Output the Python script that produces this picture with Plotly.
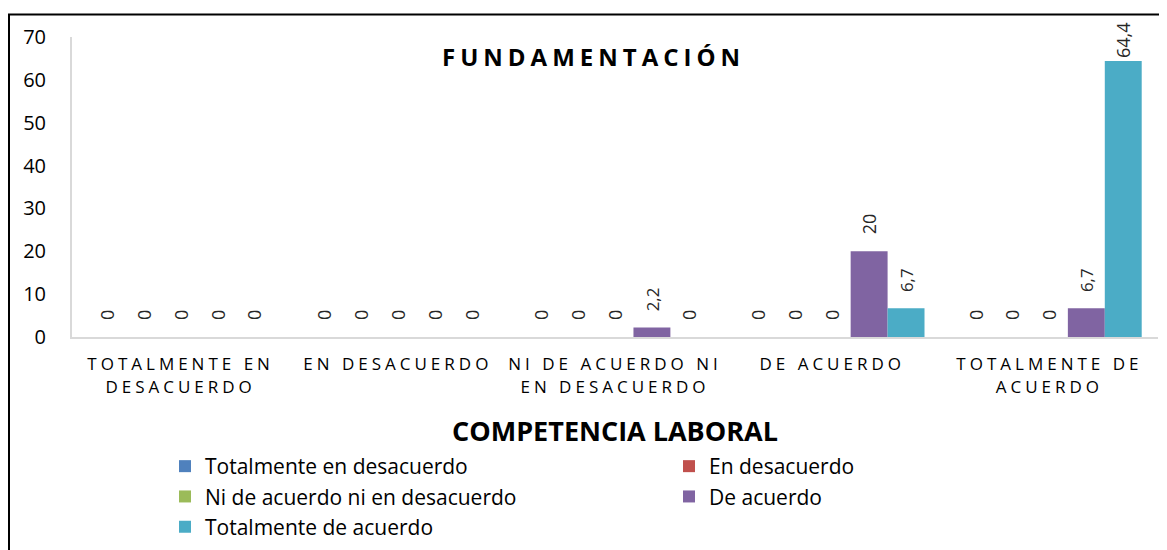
import plotly.graph_objects as go

categories = ["TOTALMENTE EN<br>DESACUERDO", "EN DESACUERDO", "NI DE ACUERDO NI<br>EN DESACUERDO",
              "DE ACUERDO", "TOTALMENTE DE<br>ACUERDO"]
series_names = ["Totalmente en desacuerdo", "En desacuerdo", "Ni de acuerdo ni en desacuerdo",
                "De acuerdo", "Totalmente de acuerdo"]
v_totalmente_desacuerdo = [0, 0, 0, 0, 0]
v_en_desacuerdo = [0, 0, 0, 0, 0]
v_ni_ni = [0, 0, 0, 0, 0]
v_de_acuerdo = [0, 0, 2.2, 20, 6.7]
v_totalmente_acuerdo = [0, 0, 0, 6.7, 64.4]
series_values = [v_totalmente_desacuerdo, v_en_desacuerdo, v_ni_ni, v_de_acuerdo, v_totalmente_acuerdo]
colors = ["#4F81BD", "#C0504D", "#9BBB59", "#8064A2", "#4BACC6"]
legend_column = ["legend", "legend2", "legend", "legend2", "legend"]

FONT = "'Open Sans', sans-serif"
W, H = 1167, 550
ML, MR, MT, MB = 64, 17, 29, 221
PW, PH = W - ML - MR, H - MT - MB
Y_MAX = 70


def spaced(s, px):
    return "<br>".join(f'<span style="letter-spacing:{px}px">{line}</span>' for line in s.split("<br>"))


def fmt(v):
    # leading no-break spaces lift the rotated label off the bar, except near the top of the axis
    pad = "\u00a0\u00a0\u00a0" if v < 0.85 * Y_MAX else ""
    return pad + str(v).replace(".", ",")


px_x = lambda p: (p - ML) / PW
px_y = lambda p: (H - MB - p) / PH

fig = go.Figure()
for name, vals, col, lg in zip(series_names, series_values, colors, legend_column):
    fig.add_trace(go.Bar(
        x=categories, y=vals, name=name, marker_color=col, marker_line_width=0,
        text=[fmt(v) for v in vals], textposition="outside", textangle=-90,
        textfont=dict(family=FONT, size=18, color="#262626"), cliponaxis=False,
        legend=lg,
    ))

legend_common = dict(
    orientation="v", xanchor="left", yanchor="top", itemwidth=30, tracegroupgap=0,
    bgcolor="rgba(0,0,0,0)", font=dict(family=FONT, size=21, color="#000000"),
    traceorder="normal",
)

fig.update_layout(
    width=W, height=H, margin=dict(l=ML, r=MR, t=MT, b=MB, autoexpand=False),
    paper_bgcolor="white", plot_bgcolor="white",
    barmode="group", bargap=0.15, bargroupgap=0,
    font=dict(family=FONT, color="#000000"),
    xaxis=dict(
        tickmode="array", tickvals=categories,
        ticktext=[spaced(c, 4) for c in categories],
        tickfont=dict(family=FONT, size=17, color="#000000"),
        showline=True, linecolor="#D9D9D9", linewidth=2, ticks="",
        showgrid=False, ticklabelstandoff=11,
        title=dict(text="<b>COMPETENCIA LABORAL</b>", font=dict(family=FONT, size=27, color="#000000"),
                   standoff=26),
    ),
    yaxis=dict(
        range=[0, Y_MAX], dtick=10, showgrid=False, zeroline=False,
        showline=True, linecolor="#D9D9D9", linewidth=2, ticks="",
        tickfont=dict(family=FONT, size=20, color="#000000"), ticklabelstandoff=20,
    ),
    legend=dict(x=px_x(157), y=px_y(438), **legend_common),
    legend2=dict(x=px_x(661), y=px_y(438), **legend_common),
    annotations=[dict(
        text="<b>" + spaced("FUNDAMENTACIÓN", 5) + "</b>", xref="paper", yref="paper",
        x=px_x(585), y=px_y(48), showarrow=False, xanchor="center", yanchor="middle",
        font=dict(family=FONT, size=24, color="#000000"),
    )],
    shapes=[
        dict(type="line", xref="paper", yref="paper", x0=px_x(1), x1=px_x(1), y0=px_y(6), y1=px_y(560),
             line=dict(color="#000000", width=2)),
        dict(type="line", xref="paper", yref="paper", x0=px_x(0), x1=px_x(1180), y0=px_y(6.5), y1=px_y(6.5),
             line=dict(color="#000000", width=2)),
    ],
)

fig.write_html("out.html")
